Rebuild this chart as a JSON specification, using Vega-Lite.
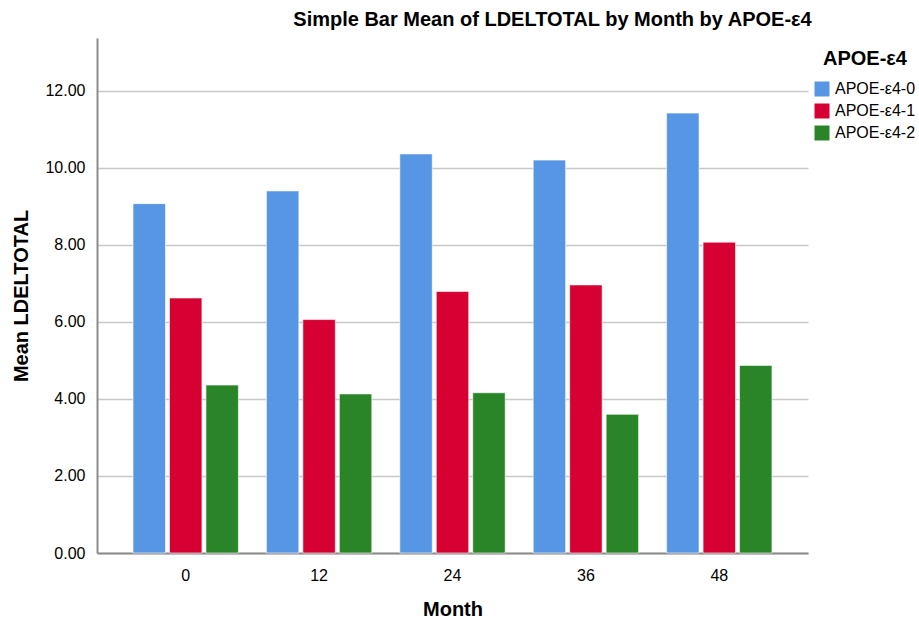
{
  "$schema": "https://vega.github.io/schema/vega-lite/v6.json",
  "autosize": "none",
  "width": 711,
  "height": 515,
  "padding": {"left": 97, "top": 38, "right": 111, "bottom": 70},
  "background": "white",
  "title": {
    "text": "Simple Bar Mean of LDELTOTAL by Month by APOE-ε4",
    "font": "Liberation Sans",
    "fontSize": 20,
    "fontWeight": "bold",
    "color": "#000000",
    "anchor": "middle",
    "dx": 100,
    "offset": 8
  },
  "data": {
    "values": [
      {"Month": 0, "APOE": "APOE-ε4-0", "Mean": 9.07},
      {"Month": 0, "APOE": "APOE-ε4-1", "Mean": 6.62},
      {"Month": 0, "APOE": "APOE-ε4-2", "Mean": 4.36},
      {"Month": 12, "APOE": "APOE-ε4-0", "Mean": 9.40},
      {"Month": 12, "APOE": "APOE-ε4-1", "Mean": 6.06},
      {"Month": 12, "APOE": "APOE-ε4-2", "Mean": 4.13},
      {"Month": 24, "APOE": "APOE-ε4-0", "Mean": 10.36},
      {"Month": 24, "APOE": "APOE-ε4-1", "Mean": 6.79},
      {"Month": 24, "APOE": "APOE-ε4-2", "Mean": 4.16},
      {"Month": 36, "APOE": "APOE-ε4-0", "Mean": 10.20},
      {"Month": 36, "APOE": "APOE-ε4-1", "Mean": 6.96},
      {"Month": 36, "APOE": "APOE-ε4-2", "Mean": 3.60},
      {"Month": 48, "APOE": "APOE-ε4-0", "Mean": 11.42},
      {"Month": 48, "APOE": "APOE-ε4-1", "Mean": 8.07},
      {"Month": 48, "APOE": "APOE-ε4-2", "Mean": 4.87}
    ]
  },
  "mark": {"type": "bar", "stroke": "#ffffff", "strokeWidth": 1, "strokeOpacity": 0.6},
  "encoding": {
    "x": {
      "field": "Month",
      "type": "ordinal",
      "scale": {"paddingInner": 0.21, "paddingOuter": 0.27},
      "axis": {
        "title": "Month",
        "titleFont": "Liberation Sans",
        "titleFontSize": 20,
        "titleFontWeight": "bold",
        "titleColor": "#000000",
        "titlePadding": 16,
        "labelFont": "Liberation Sans",
        "labelFontSize": 16,
        "labelColor": "#000000",
        "labelAngle": 0,
        "labelPadding": 14,
        "ticks": false,
        "domainColor": "#8c8c8c",
        "domainWidth": 2,
        "grid": false
      }
    },
    "xOffset": {"field": "APOE", "type": "nominal", "scale": {"paddingInner": 0.11}},
    "y": {
      "field": "Mean",
      "type": "quantitative",
      "scale": {"domain": [0, 13.37], "nice": false, "zero": true},
      "axis": {
        "title": "Mean LDELTOTAL",
        "titleFont": "Liberation Sans",
        "titleFontSize": 20,
        "titleFontWeight": "bold",
        "titleColor": "#000000",
        "titlePadding": 13,
        "values": [0, 2, 4, 6, 8, 10, 12],
        "format": ".2f",
        "labelFont": "Liberation Sans",
        "labelFontSize": 16,
        "labelColor": "#000000",
        "labelPadding": 12,
        "ticks": false,
        "domainColor": "#8c8c8c",
        "domainWidth": 2,
        "grid": true,
        "gridColor": "#c8c8c8",
        "gridWidth": 1.5
      }
    },
    "color": {
      "field": "APOE",
      "type": "nominal",
      "scale": {
        "domain": ["APOE-ε4-0", "APOE-ε4-1", "APOE-ε4-2"],
        "range": ["#5796E4", "#D60032", "#2A8529"]
      },
      "legend": {
        "title": "APOE-ε4",
        "orient": "none",
        "legendX": 717,
        "legendY": 11,
        "titleFont": "Liberation Sans",
        "titleFontSize": 20,
        "titleFontWeight": "bold",
        "titleColor": "#000000",
        "titleAnchor": "middle",
        "titlePadding": 12,
        "labelFont": "Liberation Sans",
        "labelFontSize": 16,
        "labelColor": "#000000",
        "labelOffset": 5,
        "symbolType": "square",
        "symbolSize": 225,
        "symbolStrokeWidth": 0,
        "rowPadding": 6
      }
    }
  },
  "config": {"view": {"stroke": null}}
}
